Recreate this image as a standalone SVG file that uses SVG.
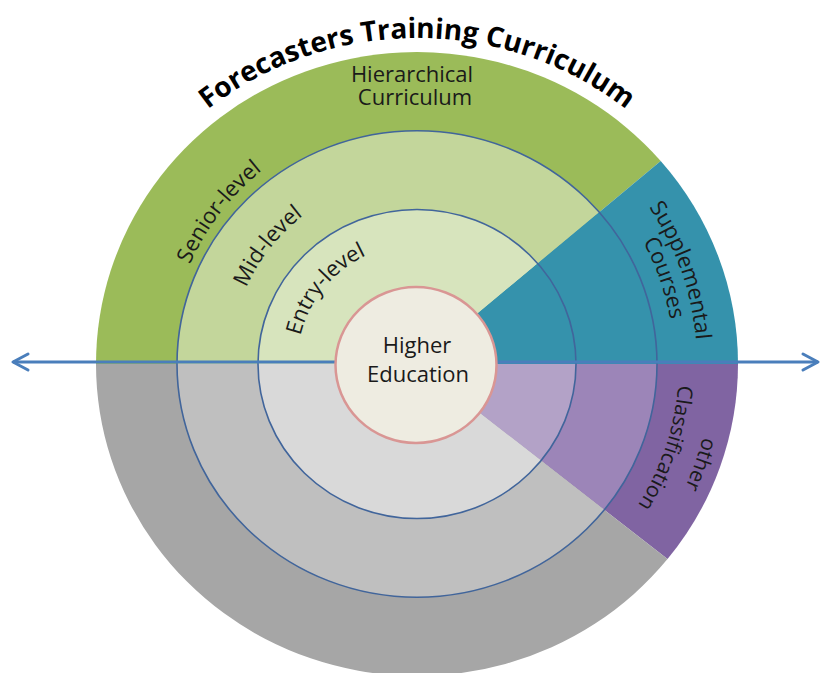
<svg xmlns="http://www.w3.org/2000/svg" width="821" height="673" viewBox="0 0 821 673">
<defs>
<style>
.ring{fill:none;stroke:#41659B;stroke-width:1.6}
.lbl{font-family:"Open Sans","Liberation Sans",sans-serif;font-size:22px;fill:#1a1a1a}
.sm{font-size:21px}
.title{font-family:"Open Sans","Liberation Sans",sans-serif;font-size:28px;font-weight:bold;fill:#000}
.g1{fill:#9BBB59}.g2{fill:#C3D69B}.g3{fill:#D7E4BD}
.t{fill:#3592AC}
.p1{fill:#8064A2}.p2{fill:#9C85B8}.p3{fill:#B3A2C7}
.k1{fill:#A6A6A6}.k2{fill:#BFBFBF}.k3{fill:#D9D9D9}
</style>
<marker id="arr" markerUnits="userSpaceOnUse" markerWidth="24" markerHeight="24" refX="17" refY="9" orient="auto-start-reverse" overflow="visible">
<path d="M2,1 L17,9 L2,17" fill="none" stroke="#4A7EBB" stroke-width="3" stroke-linecap="round" stroke-linejoin="round"/>
</marker>
<path id="pTitle" d="M102.2,252.5 A335,326 0 0 1 731.8,252.5"/>
<path id="pSenior" d="M174.9,417.7 A248,248 0 0 1 406.2,116.2"/>
<path id="pMid" d="M233.9,401.9 A187,187 0 0 1 411.4,177.1"/>
<path id="pEntry" d="M299.1,386.3 A120,120 0 0 1 415.5,244"/>
<path id="pSupp" d="M515.1,101.7 A280,280 0 0 1 658.2,506.1"/>
<path id="pCourses" d="M508.3,123.8 A257,257 0 0 1 637.8,495.6"/>
<path id="pOther" d="M671.2,214.3 A295,295 0 0 1 520.3,640.3"/>
<path id="pClass" d="M640.6,227.5 A262,262 0 0 1 512.6,608"/>
</defs>

<g id="rings" transform="translate(417,364) scale(1,0.972)">
<g id="outer-ring">
<path class="g1" d="M0,0 L-321,0 A321,321 0 0 1 243.7,-208.9 Z"/>
<path class="t" d="M0,0 L243.7,-208.9 A321,321 0 0 1 321,0 Z"/>
<path class="p1" d="M0,0 L321,0 A321,321 0 0 1 250.5,200.7 Z"/>
<path class="k1" d="M0,0 L250.5,200.7 A321,321 0 0 1 -321,0 Z"/>
</g>
<g id="middle-ring">
<path class="g2" d="M0,0 L-240,0 A240,240 0 0 1 182.2,-156.2 Z"/>
<path class="t" d="M0,0 L182.2,-156.2 A240,240 0 0 1 240,0 Z"/>
<path class="p2" d="M0,0 L240,0 A240,240 0 0 1 187.3,150 Z"/>
<path class="k2" d="M0,0 L187.3,150 A240,240 0 0 1 -240,0 Z"/>
</g>
<g id="inner-ring">
<path class="g3" d="M0,0 L-159,0 A159,159 0 0 1 120.7,-103.5 Z"/>
<path class="t" d="M0,0 L120.7,-103.5 A159,159 0 0 1 159,0 Z"/>
<path class="p3" d="M0,0 L159,0 A159,159 0 0 1 124.1,99.4 Z"/>
<path class="k3" d="M0,0 L124.1,99.4 A159,159 0 0 1 -159,0 Z"/>
</g>
<circle class="ring" r="240"/>
<circle class="ring" r="159"/>
</g>

<g id="connectors">
<line x1="13" y1="362" x2="818" y2="362" stroke="#4A7EBB" stroke-width="3" marker-start="url(#arr)" marker-end="url(#arr)"/>
</g>

<g id="higher-education">
<ellipse cx="416" cy="365" rx="80.5" ry="78" fill="#EEECE1" stroke="#D99694" stroke-width="2.5"/>
<text class="lbl" x="417" y="353" text-anchor="middle">Higher</text>
<text class="lbl" x="418" y="382" text-anchor="middle">Education</text>
</g>

<g id="title">
<text class="title"><textPath href="#pTitle" startOffset="50%" text-anchor="middle">Forecasters Training Curriculum</textPath></text>
</g>

<g id="hierarchical-curriculum">
<text class="lbl" x="412" y="82" text-anchor="middle">Hierarchical</text>
<text class="lbl" x="415" y="105" text-anchor="middle">Curriculum</text>
</g>

<g id="senior-level">
<text class="lbl"><textPath href="#pSenior" startOffset="50%" text-anchor="middle">Senior-level</textPath></text>
</g>
<g id="mid-level">
<text class="lbl"><textPath href="#pMid" startOffset="50%" text-anchor="middle">Mid-level</textPath></text>
</g>
<g id="entry-level">
<text class="lbl"><textPath href="#pEntry" startOffset="50%" text-anchor="middle">Entry-level</textPath></text>
</g>

<g id="supplemental-courses">
<text class="lbl"><textPath href="#pSupp" startOffset="50%" text-anchor="middle">Supplemental</textPath></text>
<text class="lbl"><textPath href="#pCourses" startOffset="50%" text-anchor="middle">Courses</textPath></text>
</g>

<g id="other-classification">
<text class="lbl sm"><textPath href="#pOther" startOffset="50%" text-anchor="middle">other</textPath></text>
<text class="lbl sm"><textPath href="#pClass" startOffset="50%" text-anchor="middle">Classification</textPath></text>
</g>
</svg>
